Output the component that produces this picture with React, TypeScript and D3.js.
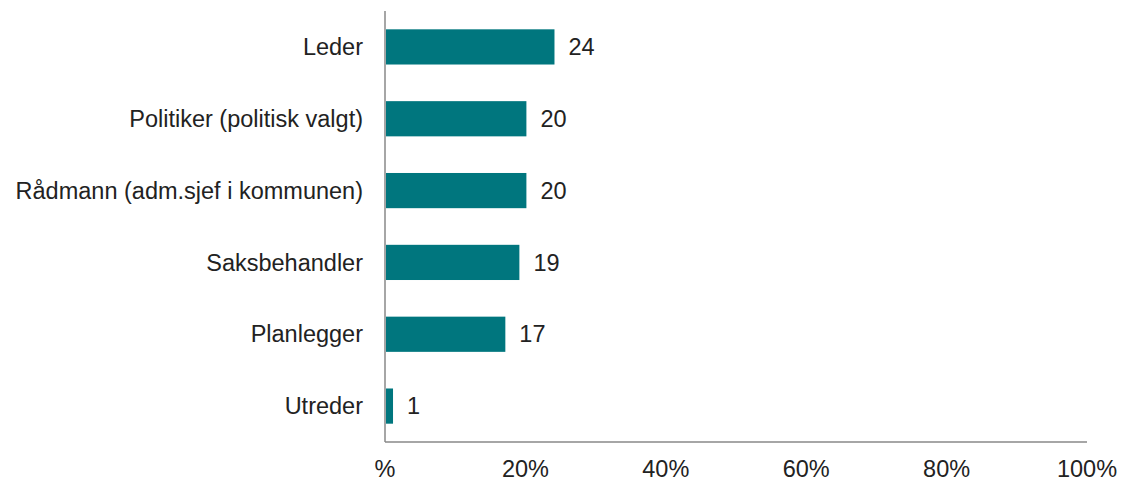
import React, { useEffect, useRef } from 'react';
import * as d3 from 'd3';

const categories = [
  'Leder',
  'Politiker (politisk valgt)',
  'Rådmann (adm.sjef i kommunen)',
  'Saksbehandler',
  'Planlegger',
  'Utreder',
];
const values = [24, 20, 20, 19, 17, 1];
const tickValues = [0, 20, 40, 60, 80, 100];
const tickLabels = ['%', '20%', '40%', '60%', '80%', '100%'];

export default function App() {
  const svgRef = useRef<SVGSVGElement>(null);

  useEffect(() => {
    if (!svgRef.current) return;
    const width = 1123;
    const height = 482;
    const left = 385;
    const right = 1087;
    const top = 11;
    const bottom = 442;
    const fontSize = '23.5px';

    const svg = d3.select(svgRef.current);
    svg.selectAll('*').remove();
    svg
      .attr('width', width)
      .attr('height', height)
      .style('font-family', '"Liberation Sans", Arial, sans-serif');

    const x = d3.scaleLinear().domain([0, 100]).range([left, right]);
    const y = d3.scaleBand<string>().domain(categories).range([top, bottom]).paddingInner(0.51).paddingOuter(0.255);

    const rows = categories.map((c, i) => ({ name: c, value: values[i] }));

    // bars
    svg.append('g')
      .selectAll('rect')
      .data(rows)
      .join('rect')
      .attr('x', x(0) + 1)
      .attr('y', d => y(d.name)!)
      .attr('width', d => x(d.value) - x(0))
      .attr('height', y.bandwidth())
      .attr('fill', '#00767e');

    // value labels
    svg.append('g')
      .selectAll('text')
      .data(rows)
      .join('text')
      .attr('x', d => x(d.value) + 15)
      .attr('y', d => y(d.name)! + y.bandwidth() / 2)
      .attr('dy', '0.35em')
      .attr('fill', '#222')
      .style('font-size', fontSize)
      .text(d => d.value);

    // category labels
    svg.append('g')
      .selectAll('text')
      .data(rows)
      .join('text')
      .attr('x', left - 22)
      .attr('y', d => y(d.name)! + y.bandwidth() / 2)
      .attr('dy', '0.35em')
      .attr('text-anchor', 'end')
      .attr('fill', '#222')
      .style('font-size', fontSize)
      .text(d => d.name);

    // axes lines
    svg.append('line')
      .attr('x1', left).attr('x2', left)
      .attr('y1', top).attr('y2', bottom)
      .attr('stroke', '#888').attr('stroke-width', 1.5);
    svg.append('line')
      .attr('x1', left).attr('x2', right)
      .attr('y1', bottom).attr('y2', bottom)
      .attr('stroke', '#888').attr('stroke-width', 1.5);

    // x tick labels
    svg.append('g')
      .selectAll('text')
      .data(tickValues)
      .join('text')
      .attr('x', d => x(d))
      .attr('y', 477)
      .attr('text-anchor', 'middle')
      .attr('fill', '#222')
      .style('font-size', fontSize)
      .text((d, i) => tickLabels[i]);
  }, []);

  return (
    <div style={{ position: 'absolute', left: 0, top: 0, background: '#fff' }}>
      <svg ref={svgRef}></svg>
    </div>
  );
}
